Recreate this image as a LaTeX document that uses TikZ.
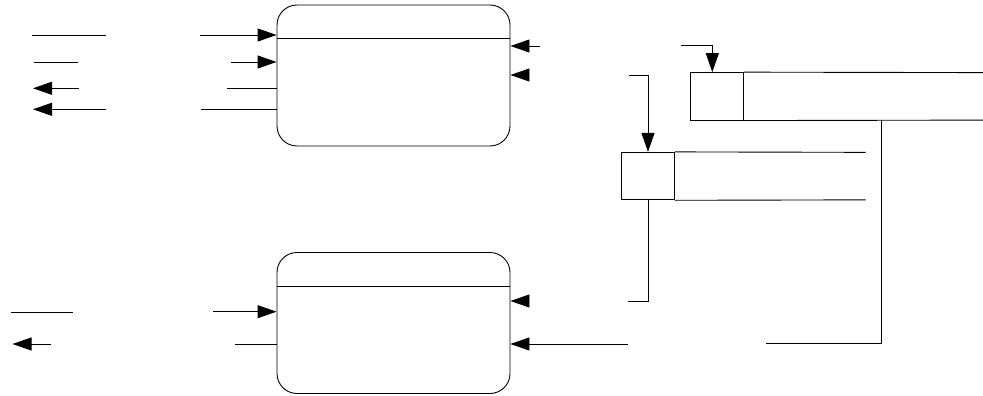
\documentclass[tikz,border=0pt]{standalone}
\usetikzlibrary{arrows.meta}
\begin{document}
\begin{tikzpicture}[x=1pt,y=-1pt, line width=0.9pt,
  proc/.style={draw, rounded corners=20pt, minimum width=233pt, minimum height=141pt, inner sep=0pt},
  arr/.style={-{Triangle[length=19pt,width=13pt]}},
  sid/.style={draw, minimum width=52.6pt, minimum height=47.5pt, inner sep=0pt}]
\useasboundingbox (0,0) rectangle (983,396);
% processes
\node[proc] (p1) at (393.5,75.5) {};
\node[proc] (p2) at (393.5,323) {};
\coordinate (d1) at (0,38.3);
\coordinate (d2) at (0,286);
\draw (p1.west |- d1) -- (p1.east |- d1);
\draw (p2.west |- d2) -- (p2.east |- d2);
% data stores
\node[sid] (s1) at (717,96.35) {};
\coordinate (s1te) at (983,72.6);
\coordinate (s1be) at (983,120.1);
\draw (s1.north east) -- (s1te);
\draw (s1.south east) -- (s1be);
\node[sid] (s2) at (648,176.1) {};
\coordinate (s2te) at (865.7,152.35);
\coordinate (s2be) at (865.7,199.85);
\draw (s2.north east) -- (s2te);
\draw (s2.south east) -- (s2be);
% left of process 1
\coordinate (l1a) at (32,35); \coordinate (l1b) at (106,35);
\draw (l1a) -- (l1b);
\coordinate (a1) at (200,35);
\draw[arr] (a1) -- (a1 -| p1.west);
\coordinate (l2a) at (34,62); \coordinate (l2b) at (77.5,62);
\draw (l2a) -- (l2b);
\coordinate (a2) at (231,62);
\draw[arr] (a2) -- (a2 -| p1.west);
\coordinate (a3s) at (78.6,88.3); \coordinate (a3e) at (33,88.3);
\draw[arr] (a3s) -- (a3e);
\coordinate (l3) at (227,88.3);
\draw (l3) -- (l3 -| p1.west);
\coordinate (a4s) at (106,109.3); \coordinate (a4e) at (33,109.3);
\draw[arr] (a4s) -- (a4e);
\coordinate (l4) at (201,109.3);
\draw (l4) -- (l4 -| p1.west);
% right of process 1
\coordinate (a5) at (540,46);
\draw[arr] (a5) -- (a5 -| p1.east);
\coordinate (a6) at (528,75);
\draw[arr] (a6) -- (a6 -| p1.east);
% into stores
\coordinate (e1) at (681,45.7);
\draw[arr] (e1) -| ([xshift=-4.7pt]s1.north);
\coordinate (e2) at (629.3,75);
\draw[arr] (e2) -| (s2.north);
% out of stores
\coordinate (f2) at (628,301);
\draw (s2.south) |- (f2);
\coordinate (s1b) at (881.7,120.1);
\coordinate (f1) at (766,343.7);
\draw (s1b) |- (f1);
% left of process 2
\coordinate (m1a) at (10.7,312.7); \coordinate (m1b) at (73,312.7);
\draw (m1a) -- (m1b);
\coordinate (m2s) at (51,344); \coordinate (m2e) at (12.5,344);
\draw[arr] (m2s) -- (m2e);
\coordinate (b1) at (213,311.7);
\draw[arr] (b1) -- (b1 -| p2.west);
\coordinate (b2) at (235,344);
\draw (b2) -- (b2 -| p2.west);
% right of process 2
\coordinate (b3) at (528,301);
\draw[arr] (b3) -- (b3 -| p2.east);
\coordinate (b4) at (628,344);
\draw[arr] (b4) -- (b4 -| p2.east);
\end{tikzpicture}
\end{document}
